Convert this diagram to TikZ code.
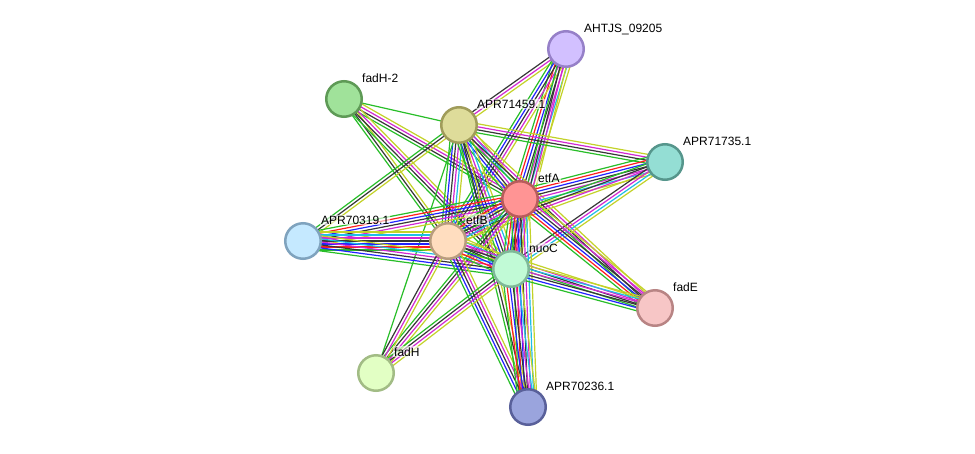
\documentclass[tikz,border=0pt]{standalone}
\usepackage{fontspec}
\setmainfont{Liberation Sans}
\usetikzlibrary{calc,backgrounds}
% evidence channel colours
\definecolor{cgreen}{RGB}{40,190,40}
\definecolor{cred}{RGB}{255,30,30}
\definecolor{cblue}{RGB}{35,35,255}
\definecolor{cblack}{RGB}{55,55,55}
\definecolor{cmag}{RGB}{210,40,210}
\definecolor{ccyan}{RGB}{30,190,230}
\definecolor{cyel}{RGB}{195,210,40}
\tikzset{
  prot/.style={circle,minimum size=35.5pt,inner sep=0pt,line width=2.5pt},
  lbl/.style={anchor=base west,inner sep=1pt,font=\fontsize{12}{14}\selectfont,
    fill=white,fill opacity=0.6,text opacity=1},
  edge/.style={line width=1.2pt},
}
% parallel bundle of evidence lines between two nodes
\newcommand{\linkbundle}[3]{%
  \foreach \c [count=\i] in {#3} {\xdef\nlines{\i}}
  \foreach \c [count=\i] in {#3} {
    \pgfmathsetmacro{\off}{(\i-(\nlines+1)/2)*3}
    \draw[edge,\c] ($(#1)!\off pt!90:(#2)$) -- ($(#2)!\off pt!-90:(#1)$);
  }
}

\begin{document}
\begin{tikzpicture}[x=1pt,y=-1pt]
  \useasboundingbox (0,0) rectangle (975,453);

  \node[prot,fill={rgb,255:red,210;green,192;blue,255},draw={rgb,255:red,150;green,128;blue,200}] (A) at (566,49) {};
  \node[prot,fill={rgb,255:red,160;green,226;blue,154},draw={rgb,255:red,94;green,154;blue,86}] (H2) at (344,99) {};
  \node[prot,fill={rgb,255:red,222;green,220;blue,154},draw={rgb,255:red,160;green,156;blue,90}] (P59) at (459,125) {};
  \node[prot,fill={rgb,255:red,148;green,222;blue,212},draw={rgb,255:red,86;green,150;blue,140}] (P35) at (665,162) {};
  \node[prot,fill={rgb,255:red,255;green,148;blue,148},draw={rgb,255:red,184;green,92;blue,92}] (EA) at (520,199) {};
  \node[prot,fill={rgb,255:red,197;green,233;blue,255},draw={rgb,255:red,127;green,163;blue,190}] (P19) at (303,241) {};
  \node[prot,fill={rgb,255:red,255;green,221;blue,191},draw={rgb,255:red,184;green,156;blue,126}] (EB) at (448,241) {};
  \node[prot,fill={rgb,255:red,193;green,250;blue,214},draw={rgb,255:red,127;green,184;blue,152}] (NC) at (511,269) {};
  \node[prot,fill={rgb,255:red,247;green,198;blue,198},draw={rgb,255:red,184;green,132;blue,132}] (FE) at (655,308) {};
  \node[prot,fill={rgb,255:red,226;green,255;blue,196},draw={rgb,255:red,162;green,188;blue,133}] (FH) at (376,373) {};
  \node[prot,fill={rgb,255:red,154;green,164;blue,221},draw={rgb,255:red,89;green,96;blue,154}] (P36) at (528,407) {};

  \node[lbl] (A-t) at ([shift={(17,-17)}]A.center) {AHTJS\_09205};
  \node[lbl] (H2-t) at ([shift={(17,-17)}]H2.center) {fadH-2};
  \node[lbl] (P59-t) at ([shift={(17,-17)}]P59.center) {APR71459.1};
  \node[lbl] (P35-t) at ([shift={(17,-17)}]P35.center) {APR71735.1};
  \node[lbl] (EA-t) at ([shift={(17,-17)}]EA.center) {etfA};
  \node[lbl] (P19-t) at ([shift={(17,-17)}]P19.center) {APR70319.1};
  \node[lbl] (EB-t) at ([shift={(17,-17)}]EB.center) {etfB};
  \node[lbl] (NC-t) at ([shift={(17,-17)}]NC.center) {nuoC};
  \node[lbl] (FE-t) at ([shift={(17,-17)}]FE.center) {fadE};
  \node[lbl] (FH-t) at ([shift={(17,-17)}]FH.center) {fadH};
  \node[lbl] (P36-t) at ([shift={(17,-17)}]P36.center) {APR70236.1};

  \begin{scope}[on background layer]
    \fill[white] (0,0) rectangle (975,453);
    \linkbundle{A}{P59}{cblack,cmag,cyel}
    \linkbundle{A}{EA}{cgreen,cred,cblue,cblack,cmag,ccyan,cyel}
    \linkbundle{A}{EB}{cgreen,cblue,cblack,cmag,cyel}
    \linkbundle{A}{NC}{cgreen,cblack,cmag,cyel}
    \linkbundle{H2}{P59}{cgreen}
    \linkbundle{H2}{EA}{cgreen,cblack,cmag,cyel}
    \linkbundle{H2}{EB}{cgreen,cblack,cyel}
    \linkbundle{H2}{NC}{cgreen,cblack,cmag,cyel}
    \linkbundle{P59}{P35}{cgreen,cblack,cmag,cyel}
    \linkbundle{P59}{EA}{cgreen,cblue,cblack,cmag,ccyan,cyel}
    \linkbundle{P59}{EB}{cgreen,cblue,cblack,cmag,ccyan,cyel}
    \linkbundle{P59}{NC}{cgreen,cblue,cblack,cmag,ccyan,cyel}
    \linkbundle{P59}{P19}{cgreen,cblack,cyel}
    \linkbundle{P59}{FE}{cgreen,cblack,cmag,cyel}
    \linkbundle{P59}{P36}{cgreen,cblack,cyel}
    \linkbundle{P59}{FH}{cgreen}
    \linkbundle{P35}{EA}{cgreen,cred,cblue,cblack,cmag,ccyan,cyel}
    \linkbundle{P35}{EB}{cgreen,cblack,cmag,cyel}
    \linkbundle{P35}{NC}{cblack,cmag,ccyan,cyel}
    \linkbundle{EA}{P19}{cgreen,cred,cblue,cblack,cmag,cyel}
    \linkbundle{EA}{EB}{cgreen,cred,cblue,cblack,cmag,ccyan,cyel}
    \linkbundle{EA}{NC}{cgreen,cred,cblue,cblack,cmag,ccyan,cyel}
    \linkbundle{EA}{FE}{cgreen,cred,cblue,cblack,cmag,cyel}
    \linkbundle{EA}{P36}{cgreen,cred,cblue,cblack,cmag,ccyan,cyel}
    \linkbundle{EA}{FH}{cgreen,cblack,cmag,cyel}
    \linkbundle{P19}{EB}{cgreen,cred,cblue,cblack,cmag,ccyan,cyel}
    \linkbundle{P19}{NC}{cgreen,cblue,cblack,cmag,ccyan,cyel}
    \linkbundle{EB}{NC}{cgreen,cred,cblue,cblack,cmag,ccyan,cyel}
    \linkbundle{EB}{FE}{cgreen,cblack,cmag,cyel}
    \linkbundle{EB}{FH}{cblack,cmag,cyel}
    \linkbundle{EB}{P36}{cgreen,cblue,cblack,cmag,cyel}
    \linkbundle{NC}{FE}{cgreen,cblue,cblack,cmag,ccyan,cyel}
    \linkbundle{NC}{FH}{cgreen,cblack,cmag,cyel}
    \linkbundle{NC}{P36}{cgreen,cred,cblue,cblack,cmag,ccyan,cyel}
  \end{scope}
\end{tikzpicture}
\end{document}
